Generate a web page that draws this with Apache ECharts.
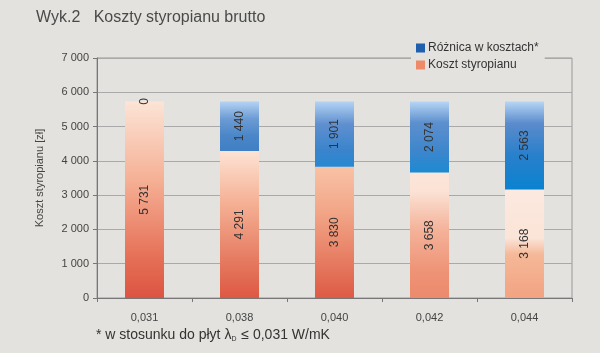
<!DOCTYPE html>
<html>
<head>
<meta charset="utf-8">
<script src="https://cdn.jsdelivr.net/npm/echarts@6/dist/echarts.min.js"></script>
<style>
html,body{margin:0;padding:0;background:#e3e2de;}
#c{width:600px;height:353px;}
</style>
</head>
<body>
<div id="c"></div>
<script>
// ---- data ----
var categories = ['0,031', '0,038', '0,040', '0,042', '0,044'];
var kosztStyropianu = [5731, 4291, 3830, 3658, 3168];
var roznicaKosztow = [0, 1440, 1901, 2074, 2563];
var yTicks = [0, 1000, 2000, 3000, 4000, 5000, 6000, 7000];

// ---- styles (per-bar gradients, top -> bottom) ----
var orangeStops = [
  [['#fce4d6',0],['#f5b095',0.4],['#e56f56',0.8],['#dd5441',1]],
  [['#fde3d4',0],['#f5b195',0.35],['#e57a60',0.75],['#de5843',1]],
  [['#f9c2a6',0],['#f2a587',0.35],['#e5785e',0.75],['#de5a45',1]],
  [['#fbe6da',0],['#fbe2d5',0.15],['#f4b39a',0.45],['#ee9275',0.8],['#ec8a6c',1]],
  [['#fce9df',0],['#fbe4d8',0.45],['#f5b898',0.6],['#f2a382',1]]
];
var blueStops = [
  [['#b6d6f4',0],['#5b8bcc',0.3],['#2a80cb',0.7],['#0a82d0',1]],
  [['#b3d3f3',0],['#6c9bd4',0.35],['#4a86c8',0.7],['#3f7fc4',1]],
  [['#b3d3f3',0],['#5f8fcf',0.35],['#3a84cc',0.75],['#2788d0',1]],
  [['#b6d6f4',0],['#5d8fce',0.3],['#3d86cc',0.7],['#1c8ad2',1]],
  [['#b6d6f4',0],['#5b8bcc',0.25],['#2a80cb',0.6],['#0a82d0',1]]
];
function grad(stops){
  return new echarts.graphic.LinearGradient(0,0,0,1, stops.map(function(s){return {offset:s[1], color:s[0]};}));
}
function fmt(v){ return String(v).replace(/\B(?=(\d{3})+(?!\d))/g, ' '); }

var chart = echarts.init(document.getElementById('c'), null, {renderer:'canvas'});
var font = 'Liberation Sans, Arial, sans-serif';

var labelCfg = {
  show: true, position: 'inside', rotate: 90,
  color: '#333', fontSize: 12, fontFamily: font,
  formatter: function(p){ return fmt(p.value); }
};

chart.setOption({
  backgroundColor: '#e3e2de',
  animation: false,
  title: {
    text: 'Wyk.2   Koszty styropianu brutto',
    left: 31, top: 5,
    textStyle: {fontSize: 16, fontWeight: 'normal', color: '#4a4a4a', fontFamily: font}
  },
  legend: {
    orient: 'vertical',
    left: 411, top: 40,
    icon: 'rect',
    itemWidth: 9, itemHeight: 9, itemGap: 5,
    padding: [2, 6, 2, 5],
    backgroundColor: '#e3e2de',
    data: [
      {name: 'Różnica w kosztach*', itemStyle: {color: '#1f5fae'}},
      {name: 'Koszt styropianu', itemStyle: {color: '#ef8a68'}}
    ],
    textStyle: {fontSize: 12, color: '#333', fontFamily: font, padding: [0,0,0,-2]}
  },
  grid: {
    left: 97, right: 28, top: 58, bottom: 55,
    show: true, borderColor: '#999', borderWidth: 1, backgroundColor: 'transparent'
  },
  xAxis: {
    type: 'category',
    data: categories,
    axisLine: {lineStyle: {color: '#777'}},
    axisTick: {show: true, alignWithLabel: false, length: 4, inside: false, lineStyle: {color: '#777'}},
    axisLabel: {color: '#444', fontSize: 11, fontFamily: font, margin: 14}
  },
  yAxis: {
    type: 'value',
    min: yTicks[0], max: yTicks[yTicks.length-1], interval: 1000,
    name: 'Koszt styropianu [zł]',
    nameLocation: 'middle', nameGap: 52, nameRotate: 90,
    nameTextStyle: {fontSize: 11, color: '#444', fontFamily: font},
    axisLine: {show: true, lineStyle: {color: '#777'}},
    axisTick: {show: true, length: 4, lineStyle: {color: '#777'}},
    axisLabel: {color: '#444', fontSize: 11, fontFamily: font, margin: 8, formatter: fmt},
    splitLine: {lineStyle: {color: '#a9a9a9', width: 1}}
  },
  graphic: [{
    type: 'text', left: 96, top: 327, z: 10,
    style: {
      text: '{a|* w stosunku do płyt λ}{s|D}{a| ≤ 0,031 W/mK}',
      rich: {
        a: {fontSize: 14, fontFamily: font, fill: '#333', lineHeight: 19},
        s: {fontSize: 7, fontFamily: font, fill: '#333', lineHeight: 19, padding: [9,1,0,0]}
      }
    }
  }],
  series: [
    {
      name: 'Koszt styropianu', type: 'bar', stack: 'a', barWidth: 39,
      data: kosztStyropianu.map(function(v,i){ return {value: v, itemStyle: {color: grad(orangeStops[i])}}; }),
      label: labelCfg
    },
    {
      name: 'Różnica w kosztach*', type: 'bar', stack: 'a', barWidth: 39,
      data: roznicaKosztow.map(function(v,i){ return {value: v, itemStyle: {color: grad(blueStops[i])}}; }),
      label: labelCfg
    }
  ]
});
</script>
</body>
</html>
